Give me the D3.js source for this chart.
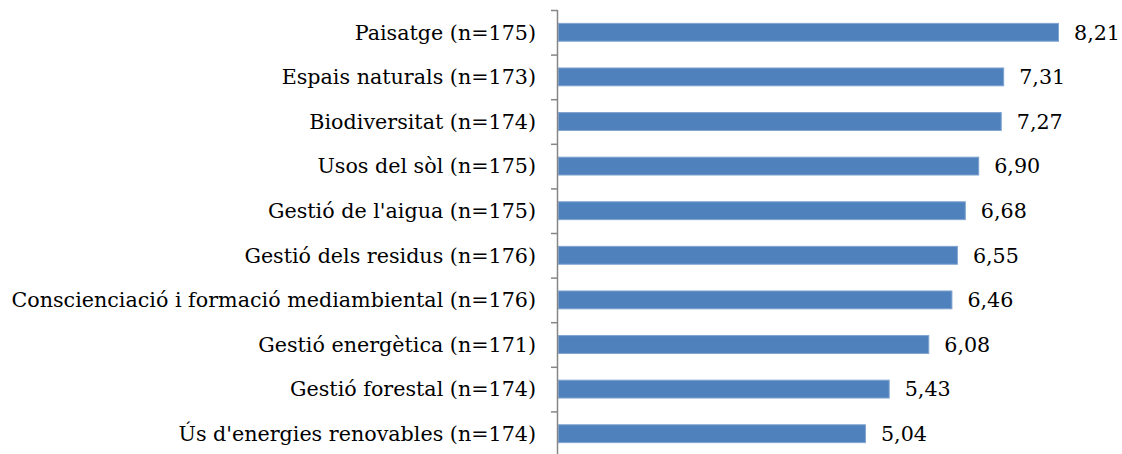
<!DOCTYPE html>
<html><head><meta charset="utf-8">
<script src="https://cdn.jsdelivr.net/npm/d3@7"></script>
<style>body{margin:0;background:#fff}svg{display:block}</style>
</head><body>
<svg id="c" width="1122" height="454"></svg>
<script>
const categories = ["Paisatge (n=175)","Espais naturals (n=173)","Biodiversitat (n=174)","Usos del sòl (n=175)","Gestió de l'aigua (n=175)","Gestió dels residus (n=176)","Conscienciació i formació mediambiental (n=176)","Gestió energètica (n=171)","Gestió forestal (n=174)","Ús d'energies renovables (n=174)"];
const values = [8.21,7.31,7.27,6.90,6.68,6.55,6.46,6.08,5.43,5.04];
const valueLabels = ["8,21","7,31","7,27","6,90","6,68","6,55","6,46","6,08","5,43","5,04"];

const svg = d3.select("#c");
const x0 = 558, y0 = 10, y1 = 456;
const x = d3.scaleLinear().domain([0, 9]).range([x0, x0 + 9 * 60.9]);
const y = d3.scaleBand().domain(categories).range([y0, y1]).paddingInner(0.6).paddingOuter(0.3);
const yb = d3.scaleBand().domain(categories).range([y0, y1]);
const font = "'DejaVu Serif', serif";

svg.append("g").selectAll("rect").data(values).join("rect")
  .attr("x", x(0) + 0.5)
  .attr("y", (d, i) => y(categories[i]))
  .attr("width", d => x(d) - x(0))
  .attr("height", y.bandwidth())
  .attr("fill", "#4F81BD")
  .attr("stroke", "#7FA3D0").attr("stroke-width", 1);

// axis
const ax = svg.append("g");
ax.append("line").attr("x1", x0 - 0.5).attr("x2", x0 - 0.5).attr("y1", y0).attr("y2", y1).attr("stroke", "#868686").attr("stroke-width", 1.5);
const edges = categories.map(c => yb(c)).concat([y1]);
ax.selectAll("line.t").data(edges).join("line").attr("class", "t")
  .attr("x1", x0 - 7).attr("x2", x0 - 0.5).attr("y1", d => d + 0.5).attr("y2", d => d + 0.5)
  .attr("stroke", "#868686").attr("stroke-width", 1.5);

const catText = svg.append("g").selectAll("text").data(categories).join("text")
  .attr("x", 536).attr("y", d => yb(d) + yb.bandwidth() / 2)
  .attr("dy", "0.35em").attr("text-anchor", "end")
  .attr("font-family", font).attr("font-size", 18).attr("fill", "#000")
  .text(d => d);
// fit font size so the longest label spans the reference width
const w = d3.max(catText.nodes(), n => n.getComputedTextLength());
const fs = 18 * 525 / w;
catText.attr("font-size", fs);

svg.append("g").selectAll("text").data(values).join("text")
  .attr("x", d => x(d) + 16).attr("y", (d, i) => yb(categories[i]) + yb.bandwidth() / 2)
  .attr("dy", "0.35em")
  .attr("font-family", font).attr("font-size", fs).attr("fill", "#000")
  .text((d, i) => valueLabels[i]);
</script>
</body></html>
